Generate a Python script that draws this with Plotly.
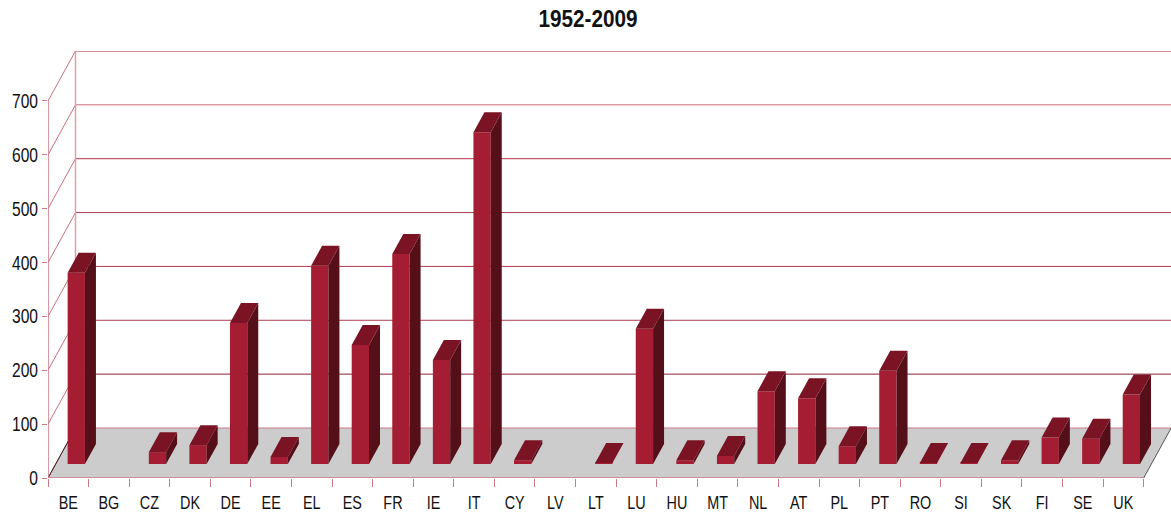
import plotly.graph_objects as go

categories = ["BE","BG","CZ","DK","DE","EE","EL","ES","FR","IE","IT","CY","LV","LT","LU","HU","MT","NL","AT","PL","PT","RO","SI","SK","FI","SE","UK"]
values = [355,0,22,35,262,13,368,221,390,193,616,7,0,2,251,7,15,135,122,33,173,2,2,7,49,47,129]
y_ticks = [0,100,200,300,400,500,600,700]
grid_colors = ["#D07888","#8E2234","#B03A50","#B03A50","#B03A50","#B8324C","#CC6C7E","#D88A98"]

FONT = "Liberation Sans, Arial, sans-serif"
DIAG = "#C8707F"
W, H = 1171, 515
L, R, T, B = 48, 0, 51, 37
PX_X = 40.58
PX_Y = 0.5386
xlo = -0.5
xhi = xlo + (W - L - R) / PX_X
yhi = (H - B - T) / PX_Y
DX = 27.5 / PX_X
DY = 50 / PX_Y
BAR_W = 17.3 / PX_X
BAR_SHIFT = 8 / PX_X
BAR_BASE = 14 / PX_Y
BAR_DX = 11 / PX_X
BAR_DY = 20 / PX_Y
xend = len(categories) - 0.5

idx = list(range(len(categories)))
fig = go.Figure()

shapes = [dict(type="path", layer="below", line=dict(width=0), fillcolor="#CCCCCC",
               path=f"M {xlo} 0 L {xend} 0 L {xend+DX} {DY} L {xlo+DX} {DY} Z")]
for v, c in zip(y_ticks[:-1], grid_colors[:-1]):
    shapes.append(dict(type="line", layer="below", x0=xlo, y0=v, x1=xlo+DX, y1=v+DY, line=dict(color=DIAG, width=1)))
    shapes.append(dict(type="line", layer="below", x0=xlo+DX, y0=v+DY, x1=xend+DX, y1=v+DY, line=dict(color=c, width=1)))
shapes.append(dict(type="line", layer="below", x0=xlo, y0=700, x1=xlo+DX, y1=700+DY, line=dict(color=DIAG, width=1)))
shapes.append(dict(type="line", layer="below", x0=xlo, y0=0, x1=xlo+DX, y1=DY, line=dict(color="#3A1A20", width=1)))
shapes.append(dict(type="line", layer="below", x0=xend, y0=0, x1=xend+DX, y1=DY, line=dict(color="#555555", width=1)))
shapes.append(dict(type="line", layer="below", x0=xlo+DX, y0=DY, x1=xlo+DX, y1=700+DY, line=dict(color="#DDA0AC", width=1.5)))

shown = [i for i in idx if values[i] > 0]
fig.add_trace(go.Bar(
    x=[i + BAR_SHIFT for i in shown],
    y=[values[i] for i in shown],
    base=BAR_BASE, width=BAR_W,
    marker=dict(color="#A51D33", line=dict(width=0)),
    hoverinfo="skip", cliponaxis=False))

# frame lines on the plot edges, unclipped so they keep their full width
fig.add_trace(go.Scatter(x=[xlo, xlo, xend], y=[700, 0, 0], mode="lines",
                         line=dict(color="#D07888", width=1.5), hoverinfo="skip", cliponaxis=False))
fig.add_trace(go.Scatter(x=[xlo+DX, xend+DX], y=[700+DY, 700+DY], mode="lines",
                         line=dict(color=grid_colors[-1], width=2), hoverinfo="skip", cliponaxis=False))

top_x, top_y, side_x, side_y = [], [], [], []
for i in shown:
    x0 = i + BAR_SHIFT - BAR_W / 2
    x1 = x0 + BAR_W
    y0 = BAR_BASE
    y1 = BAR_BASE + values[i]
    top_x += [x0, x1, x1 + BAR_DX, x0 + BAR_DX, x0, None]
    top_y += [y1, y1, y1 + BAR_DY, y1 + BAR_DY, y1, None]
    side_x += [x1, x1 + BAR_DX, x1 + BAR_DX, x1, x1, None]
    side_y += [y0, y0 + BAR_DY, y1 + BAR_DY, y1, y0, None]
fig.add_trace(go.Scatter(x=side_x, y=side_y, mode="lines", fill="toself", fillcolor="#540F19",
                         line=dict(width=0), hoverinfo="skip", cliponaxis=False))
fig.add_trace(go.Scatter(x=top_x, y=top_y, mode="lines", fill="toself", fillcolor="#7A1425",
                         line=dict(width=0), hoverinfo="skip", cliponaxis=False))

fig.update_layout(
    width=W, height=H, showlegend=False, shapes=shapes,
    paper_bgcolor="white", plot_bgcolor="white",
    margin=dict(l=L, r=R, t=T, b=B, pad=0),
    font=dict(family=FONT, color="#111111"),
    title=dict(text="<b>1952-2009</b>", x=588 / W, xanchor="center", y=1 - 19 / H, yanchor="middle",
               font=dict(family=FONT, size=23, color="#111111")),
    xaxis=dict(range=[xlo, xhi], automargin=False, tickmode="array", tickvals=idx, ticktext=categories,
               ticks="outside", ticklen=8, tickwidth=0, tickcolor="rgba(0,0,0,0)",
               showgrid=False, zeroline=False, showline=False, tickfont=dict(size=18),
               minor=dict(tickmode="array", tickvals=[i - 0.5 for i in idx] + [xend],
                          ticks="outside", ticklen=8, tickcolor="#D07888", tickwidth=1.2, showgrid=False)),
    yaxis=dict(range=[0, yhi], automargin=False, tickmode="array", tickvals=y_ticks, ticks="outside", ticklen=5,
               tickcolor="#D07888", tickwidth=1.2, showgrid=False, zeroline=False, showline=False,
               tickfont=dict(size=20)),
)
post = """
document.body.style.margin='0';
var gd=document.getElementById('{plot_id}');
function squeeze(sel,r){gd.querySelectorAll(sel).forEach(function(t){
  t.setAttribute('lengthAdjust','spacingAndGlyphs');
  t.setAttribute('textLength',t.getComputedTextLength()*r);});}
squeeze('.xtick text',0.8);squeeze('.ytick text',0.78);squeeze('.gtitle',0.9);
"""
fig.write_html("out.html", post_script=post, config=dict(displayModeBar=False))
